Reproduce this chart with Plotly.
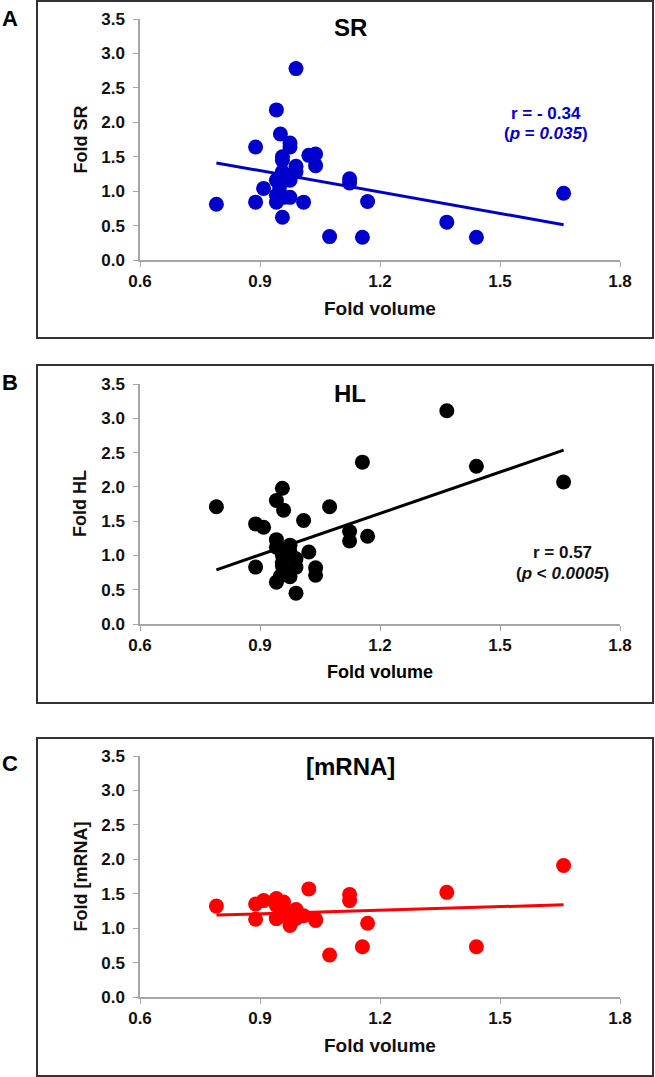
import plotly.graph_objects as go

# ---- data ----
fold_volume = [0.791, 0.889, 0.889, 0.909, 0.941, 0.951, 0.941, 0.941, 0.941, 0.956,
               0.956, 0.956, 0.956, 0.959, 0.949, 0.975, 0.975, 0.975, 0.975, 0.990,
               0.990, 0.990, 1.009, 1.022, 1.039, 1.039, 1.074, 1.124, 1.124, 1.156,
               1.169, 1.367, 1.441, 1.659]
fold_sr = [0.81, 1.64, 0.84, 1.04, 2.18, 1.83, 1.16, 0.84, 0.94, 1.50,
           1.45, 1.28, 0.62, 0.91, 1.06, 1.70, 1.64, 0.91, 1.16, 2.78,
           1.36, 1.28, 0.84, 1.52, 1.54, 1.37, 0.34, 1.18, 1.12, 0.33,
           0.85, 0.55, 0.33, 0.97]
fold_hl = [1.71, 0.83, 1.46, 1.41, 0.61, 0.70, 1.23, 1.80, 1.12, 0.85,
           0.90, 1.00, 1.98, 1.66, 1.10, 0.69, 0.75, 1.15, 1.05, 0.45,
           0.95, 0.83, 1.51, 1.05, 0.71, 0.82, 1.71, 1.21, 1.35, 2.36,
           1.28, 3.11, 2.30, 2.07]
fold_mrna = [1.32, 1.35, 1.13, 1.40, 1.33, 1.28, 1.43, 1.14, 1.14, 1.27,
             1.30, 1.28, 1.22, 1.38, 1.17, 1.17, 1.22, 1.04, 1.20, 1.25,
             1.27, 1.14, 1.18, 1.57, 1.11, 1.13, 0.61, 1.40, 1.49, 0.73,
             1.07, 1.52, 0.73, 1.91]
# fitted lines (slope, intercept) as drawn in the figure
fit_sr = (-1.034, 2.228)
fit_hl = (2.011, -0.801)
fit_mrna = (0.172, 1.054)

panel_letters = ["A", "B", "C"]
panel_titles = ["SR", "HL", "[mRNA]"]
y_titles = ["Fold SR", "Fold HL", "Fold [mRNA]"]
x_title = "Fold volume"
x_ticks = [0.6, 0.9, 1.2, 1.5, 1.8]
y_ticks = [0.0, 0.5, 1.0, 1.5, 2.0, 2.5, 3.0, 3.5]

W, H = 655, 1077
FONT = "Arial, Liberation Sans, sans-serif"


def px(x):
    return x / W


def py(y):
    return 1 - y / H


series = [fold_sr, fold_hl, fold_mrna]
fits = [fit_sr, fit_hl, fit_mrna]
colors = ["#0000CC", "#000000", "#FF0000"]
# pixel geometry of each panel: (plot top, plot bottom, box top, box bottom, letter y, title y)
geo = [(19, 260, 1, 338, 19, 28), (384, 624, 365, 703, 382, 393), (756, 997, 738, 1076, 763, 766)]

fig = go.Figure()
shapes = []
annotations = []
xmin, xmax = min(fold_volume), max(fold_volume)


def note(text, x, y, size, color="#111", weight="bold", angle=0):
    return dict(text=text, x=px(x), y=py(y), xref="paper", yref="paper", showarrow=False,
                xanchor="center", yanchor="middle", textangle=angle,
                font=dict(family=FONT, size=size, color=color, weight=weight))


for i in range(3):
    xa = "x" if i == 0 else f"x{i+1}"
    ya = "y" if i == 0 else f"y{i+1}"
    col = colors[i]
    fig.add_trace(go.Scatter(x=fold_volume, y=series[i], mode="markers",
                             marker=dict(color=col, size=15, line=dict(width=0)),
                             xaxis=xa, yaxis=ya, showlegend=False, cliponaxis=False))
    s, b = fits[i]
    fig.add_trace(go.Scatter(x=[xmin, xmax], y=[s * xmin + b, s * xmax + b], mode="lines",
                             line=dict(color=col, width=3),
                             xaxis=xa, yaxis=ya, showlegend=False))
    top, bot, btop, bbot, ly, ty = geo[i]
    axis_common = dict(showline=True, linecolor="#a6a6a6", linewidth=1.5,
                       ticks="outside", ticklen=5, tickcolor="#a6a6a6", tickwidth=1,
                       showgrid=False, zeroline=False, automargin=False,
                       tickfont=dict(family=FONT, size=17, color="#111", weight="bold"))
    fig.layout[("xaxis" if i == 0 else f"xaxis{i+1}")] = dict(
        domain=[px(140), px(620)], range=[0.6, 1.8], tickvals=x_ticks,
        ticktext=[f"{v:.1f}" for v in x_ticks], anchor=ya, **axis_common)
    fig.layout[("yaxis" if i == 0 else f"yaxis{i+1}")] = dict(
        domain=[py(bot), py(top)], range=[0, 3.5], tickvals=y_ticks,
        ticktext=[f"{v:.1f}" for v in y_ticks], anchor=xa, ticklabelstandoff=5,
        **axis_common)
    shapes.append(dict(type="rect", xref="paper", yref="paper",
                       x0=px(37), x1=px(653), y0=py(bbot), y1=py(btop),
                       line=dict(color="#333333", width=2)))
    annotations.append(note(panel_letters[i], 10, ly, 22, color="#000"))
    annotations.append(note(panel_titles[i], 350, ty, 24, color="#000"))
    annotations.append(note(y_titles[i], 80, (top + bot) / 2, 18, angle=-90))
    annotations.append(note(x_title, 380, bot + 48, 19 if i != 1 else 18,
                            color="#111" if i != 1 else "#000",
                            weight="bold" if i != 1 else 600))

# statistics text
annotations.append(note("r = - 0.34", 546, 113, 17, color="#0000CC"))
annotations.append(note("(<i>p</i> = <i>0.035</i>)", 546, 134, 17, color="#0000CC"))
annotations.append(note("r = 0.57", 562, 552, 17))
annotations.append(note("(<i>p</i> < <i>0.0005</i>)", 562, 573, 17))

fig.update_layout(width=W, height=H, margin=dict(l=0, r=0, t=0, b=0, autoexpand=False),
                  paper_bgcolor="white", plot_bgcolor="white",
                  shapes=shapes, annotations=annotations,
                  font=dict(family=FONT))
fig.write_html("out.html", config={"displayModeBar": False})

# remove default page margins so the figure fills the window exactly
with open("out.html", encoding="utf-8") as f:
    html = f.read()
html = html.replace("<head>", "<head><style>html,body{margin:0;padding:0;overflow:hidden}</style>", 1)
with open("out.html", "w", encoding="utf-8") as f:
    f.write(html)
